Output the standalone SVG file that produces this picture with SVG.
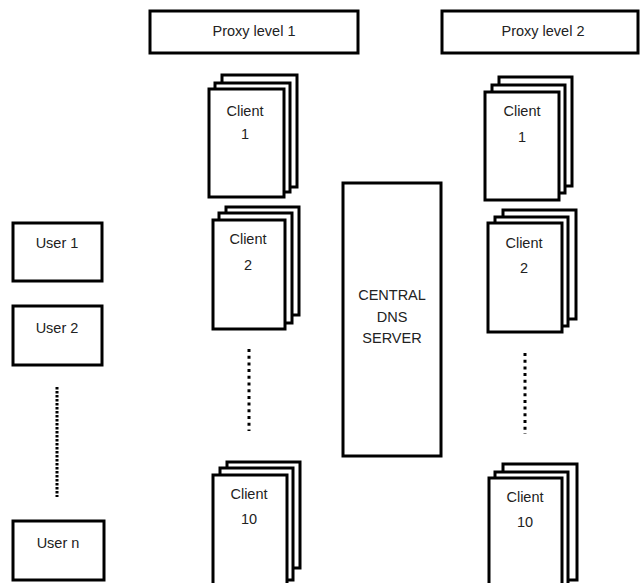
<svg xmlns="http://www.w3.org/2000/svg" width="640" height="583" viewBox="0 0 640 583">
<style>
.box{fill:#fff;stroke:#000;stroke-width:3}
.pg{fill:#fff;stroke:#000;stroke-width:3}
text{font-family:"Liberation Sans",Arial,sans-serif;font-size:14.5px;fill:#222;text-anchor:middle}
.dot{stroke:#000;stroke-width:3;fill:none}
</style>
<rect width="640" height="583" fill="#fff"/>
<g id="proxy1"><rect class="box" x="150" y="11" width="208" height="42"/><text x="254" y="36">Proxy level 1</text></g>
<g id="proxy2"><rect class="box" x="442" y="11" width="196" height="42"/><text x="543" y="36">Proxy level 2</text></g>

<g id="p1c1">
<rect class="pg" x="222" y="75" width="75" height="112"/>
<rect class="pg" x="215" y="83" width="75" height="109"/>
<rect class="pg" x="209" y="89" width="75" height="108"/>
<text x="245" y="116">Client</text><text x="245" y="139">1</text>
</g>
<g id="p1c2">
<rect class="pg" x="226" y="207" width="73" height="108"/>
<rect class="pg" x="219" y="213" width="73" height="110"/>
<rect class="pg" x="213" y="220" width="72" height="109"/>
<text x="248" y="244">Client</text><text x="248" y="270">2</text>
</g>
<g id="p1c10">
<rect class="pg" x="227" y="462" width="73" height="106"/>
<rect class="pg" x="220" y="468" width="73" height="112"/>
<rect class="pg" x="213" y="475" width="74" height="115"/>
<text x="249" y="499">Client</text><text x="249" y="524">10</text>
</g>

<g id="p2c1">
<rect class="pg" x="499" y="77" width="73" height="109"/>
<rect class="pg" x="492" y="85" width="73" height="108"/>
<rect class="pg" x="485" y="92" width="74" height="108"/>
<text x="522" y="116">Client</text><text x="522" y="142">1</text>
</g>
<g id="p2c2">
<rect class="pg" x="503" y="210" width="73" height="109"/>
<rect class="pg" x="495" y="217" width="73" height="109"/>
<rect class="pg" x="488" y="223" width="74" height="109"/>
<text x="524" y="248">Client</text><text x="524" y="273">2</text>
</g>
<g id="p2c10">
<rect class="pg" x="503" y="464" width="74" height="116"/>
<rect class="pg" x="495" y="472" width="73" height="115"/>
<rect class="pg" x="489" y="478" width="73" height="115"/>
<text x="525" y="502">Client</text><text x="525" y="527">10</text>
</g>

<g id="dns"><rect class="box" x="343" y="183" width="98" height="273"/>
<text x="392" y="300">CENTRAL</text><text x="392" y="322">DNS</text><text x="392" y="343">SERVER</text></g>

<g id="user1"><rect class="box" x="13" y="223" width="89" height="58"/><text x="57" y="248">User 1</text></g>
<g id="user2"><rect class="box" x="13" y="306" width="89" height="59"/><text x="57" y="333">User 2</text></g>
<g id="usern"><rect class="box" x="13" y="521" width="91" height="59"/><text x="58" y="548">User n</text></g>

<g id="connectors">
<line class="dot" x1="57" y1="387" x2="57" y2="497" stroke-dasharray="2.5 1.5"/>
<line class="dot" x1="249" y1="349" x2="249" y2="431" stroke-dasharray="3 3.7"/>
<line class="dot" x1="525" y1="353" x2="525" y2="434" stroke-dasharray="3 3.7"/>
</g>
</svg>
